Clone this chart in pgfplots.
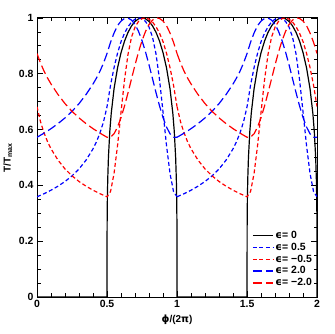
\documentclass[border=0pt]{standalone}
\usepackage{fontspec}
\setmainfont{Liberation Sans}
\newfontfamily\dv{DejaVu Sans}
\usepackage{pgfplots}
\usepackage{pgfplotstable}
\pgfplotsset{compat=1.18}

% one period (0..1) of each curve, second period is the same shifted by 1
\pgfplotstableread{
x y
0 0
0.5 0
0.5005 0.2368
0.501 0.2815
0.5025 0.3540
0.505 0.4210
0.51 0.5006
0.52 0.5950
0.53 0.6579
0.55 0.7456
0.575 0.8208
0.6 0.8756
0.625 0.9170
0.65 0.9484
0.675 0.9716
0.7 0.9875
0.725 0.9969
0.75 1
0.775 0.9969
0.8 0.9875
0.825 0.9716
0.85 0.9484
0.875 0.9170
0.9 0.8756
0.925 0.8208
0.95 0.7456
0.97 0.6579
0.98 0.5950
0.99 0.5006
0.995 0.4210
0.9975 0.3540
0.999 0.2815
0.9995 0.2368
1 0
}\tZero

\pgfplotstableread{
x y
0 0.3591
0.05 0.3701
0.1 0.3827
0.15 0.3971
0.2 0.4139
0.25 0.4341
0.3 0.4588
0.35 0.4904
0.4 0.5309
0.425 0.5567
0.45 0.5884
0.475 0.6278
0.5 0.6821
0.525 0.7588
0.55 0.8216
0.575 0.8733
0.6 0.9151
0.625 0.9453
0.65 0.9685
0.675 0.9853
0.7 0.9957
0.725 0.9999
0.75 0.9975
0.775 0.9875
0.8 0.9672
0.825 0.9312
0.85 0.8702
0.875 0.7786
0.9 0.6624
0.925 0.5422
0.95 0.4419
0.975 0.3778
1 0.3591
}\tBa

\pgfplotstableread{
x y
0 0.6821
0.025 0.6278
0.05 0.5884
0.075 0.5567
0.1 0.5309
0.15 0.4904
0.2 0.4588
0.25 0.4341
0.3 0.4139
0.35 0.3971
0.4 0.3827
0.45 0.3701
0.5 0.3591
0.525 0.3778
0.55 0.4419
0.575 0.5422
0.6 0.6624
0.625 0.7786
0.65 0.8702
0.675 0.9312
0.7 0.9672
0.725 0.9875
0.75 0.9975
0.775 0.9999
0.8 0.9957
0.825 0.9853
0.85 0.9685
0.875 0.9453
0.9 0.9151
0.925 0.8733
0.95 0.8216
0.975 0.7588
1 0.6821
}\tRa

\pgfplotstableread{
x y
0 0.5724
0.05 0.5870
0.1 0.6032
0.15 0.6213
0.2 0.6418
0.25 0.6654
0.3 0.6929
0.35 0.7255
0.375 0.7443
0.4 0.7633
0.425 0.7849
0.45 0.8095
0.475 0.8383
0.5 0.8724
0.525 0.9127
0.55 0.9458
0.575 0.9723
0.6 0.9888
0.625 0.9981
0.642 1.0
0.65 0.9995
0.675 0.9923
0.7 0.9766
0.725 0.9518
0.75 0.9186
0.775 0.8780
0.8 0.8316
0.825 0.7820
0.85 0.7320
0.875 0.6847
0.9 0.6428
0.925 0.6090
0.95 0.5848
0.975 0.5724
1 0.5724
}\tBb

\pgfplotstableread{
x y
0 0.8724
0.025 0.8383
0.05 0.8095
0.075 0.7849
0.1 0.7633
0.125 0.7443
0.15 0.7255
0.2 0.6929
0.25 0.6654
0.3 0.6418
0.35 0.6213
0.4 0.6032
0.45 0.5870
0.5 0.5724
0.525 0.5724
0.55 0.5848
0.575 0.6090
0.6 0.6428
0.625 0.6847
0.65 0.7320
0.675 0.7820
0.7 0.8316
0.725 0.8780
0.75 0.9186
0.775 0.9518
0.8 0.9766
0.825 0.9923
0.85 0.9995
0.858 1.0
0.875 0.9981
0.9 0.9888
0.925 0.9723
0.95 0.9458
0.975 0.9127
1 0.8724
}\tRb

\pgfplotsset{
    eps0/.style={draw=black, solid, line width=1.2pt},
    epsA/.style={draw=blue, dash pattern=on 4pt off 2.6pt, line width=1.2pt},
    epsB/.style={draw=red, dash pattern=on 4pt off 2.6pt, line width=1.2pt},
    epsC/.style={draw=blue, dash pattern=on 9pt off 4pt, line width=1.2pt},
    epsD/.style={draw=red, dash pattern=on 9pt off 4pt, line width=1.2pt},
}

\begin{document}
\begin{tikzpicture}
\begin{axis}[
    width=281pt, height=280pt, scale only axis,
    xmin=0, xmax=2, ymin=0, ymax=1,
    xtick={0,0.5,1,1.5,2}, minor x tick num=4,
    ytick={0,0.2,0.4,0.6,0.8,1}, minor y tick num=3,
    tick align=inside,
    major tick length=6pt, minor tick length=3.5pt,
    every tick/.style={black, line width=0.7pt},
    axis line style={line width=0.9pt},
    /pgf/number format/assume math mode=true,
    ticklabel style={font=\bfseries\fontsize{10.5}{12}\selectfont},
    label style={font=\bfseries\fontsize{10}{12}\selectfont},
    xlabel={{\dv ϕ}/(2{\dv π})},
    ylabel={T/T\textsubscript{max}},
    legend cell align=left,
    legend style={draw=none, fill=none, at={(1.0,0.02)}, anchor=south east,
        font=\bfseries\fontsize{10.5}{12}\selectfont, row sep=-1pt},
    legend image code/.code={\draw[#1, line width=1.4pt] (0pt,0pt) -- (20pt,0pt);},
]
\addlegendimage{eps0}
\addlegendentry{{\dv ϵ}=\ 0}
\addlegendimage{epsA}
\addlegendentry{{\dv ϵ}=\ 0.5}
\addlegendimage{epsB}
\addlegendentry{{\dv ϵ}=\ −0.5}
\addlegendimage{epsC}
\addlegendentry{{\dv ϵ}=\ 2.0}
\addlegendimage{epsD}
\addlegendentry{{\dv ϵ}=\ −2.0}

\addplot[eps0, forget plot] table {\tZero};
\addplot[epsA, forget plot] table {\tBa};
\addplot[epsB, forget plot] table {\tRa};
\addplot[epsC, forget plot] table {\tBb};
\addplot[epsD, forget plot] table {\tRb};
\addplot[eps0, forget plot] table[x expr=\thisrow{x}+1] {\tZero};
\addplot[epsA, forget plot] table[x expr=\thisrow{x}+1] {\tBa};
\addplot[epsB, forget plot] table[x expr=\thisrow{x}+1] {\tRa};
\addplot[epsC, forget plot] table[x expr=\thisrow{x}+1] {\tBb};
\addplot[epsD, forget plot] table[x expr=\thisrow{x}+1] {\tRb};

\coordinate (BL) at (rel axis cs:0,0);
\coordinate (TR) at (rel axis cs:1,1);
\end{axis}
\path ([xshift=-36pt,yshift=-37pt]BL) rectangle ([xshift=18pt,yshift=18pt]TR);
\end{tikzpicture}
\end{document}
